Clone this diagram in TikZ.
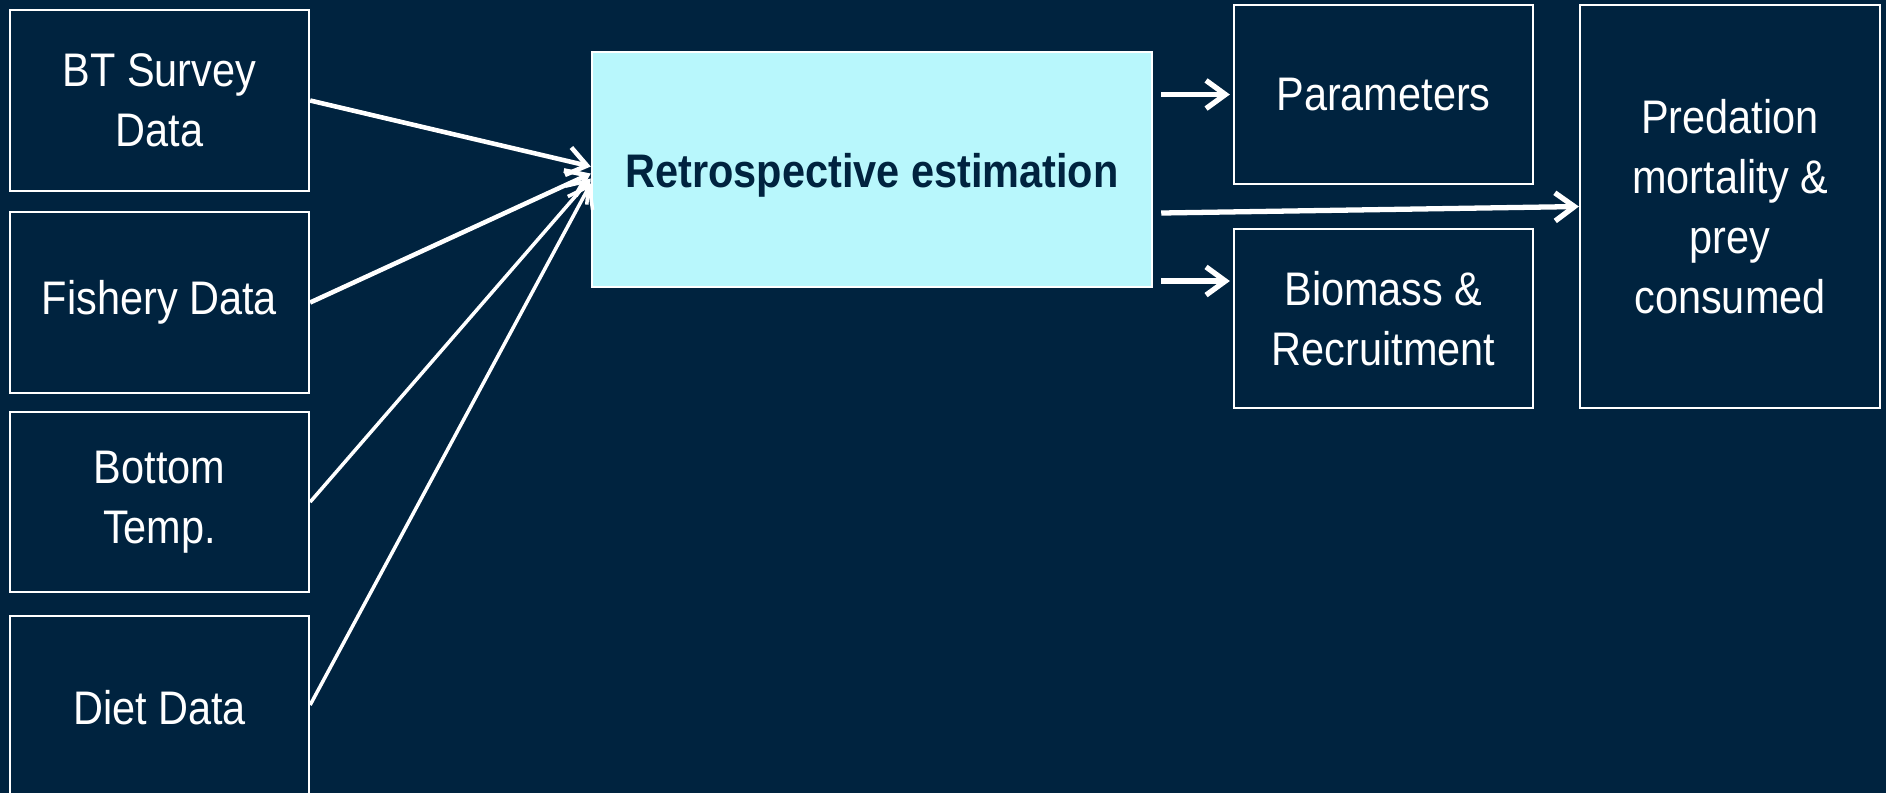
\documentclass[tikz,border=0pt]{standalone}
\usepackage{fontspec}
\setmainfont{Liberation Sans}[FakeStretch=0.88]
\usetikzlibrary{arrows.meta,calc}
\definecolor{bgnavy}{HTML}{00233F}
\definecolor{retrofill}{HTML}{B8F7FC}
\begin{document}
\begin{tikzpicture}[x=0.01cm,y=0.01cm,
  box/.style={draw=white,line width=0.6pt,inner sep=0pt,align=center,text=white,
    font=\fontsize{13.4pt}{17pt}\selectfont},
  conn/.style={draw=white,line width=#1,-{Straight Barb[length=5.5pt,width=8pt]}},
  conn/.default=1.1pt]
\fill[bgnavy] (0,0) rectangle (1886,-793);
\useasboundingbox (0,0) rectangle (1886,-793);

\node[box,minimum width=2.99cm,minimum height=1.81cm] (bt) at (159.5,-100.5) {BT Survey\\Data};
\node[box,minimum width=2.99cm,minimum height=1.81cm] (fish) at (159.5,-302.5) {Fishery Data};
\node[box,minimum width=2.99cm,minimum height=1.80cm] (temp) at (159.5,-502) {Bottom\\Temp.};
\node[box,minimum width=2.99cm,minimum height=1.94cm] (diet) at (159.5,-713) {\raisebox{0.05cm}[\height][\depth]{Diet Data}};

\node[box,fill=retrofill,text=bgnavy,minimum width=5.60cm,minimum height=2.35cm,
  font=\fontsize{13.4pt}{17pt}\selectfont\bfseries] (retro) at (872,-169.5) {\raisebox{-0.06cm}[\height][\depth]{Retrospective estimation}};

\node[box,minimum width=2.99cm,minimum height=1.79cm] (params) at (1383.5,-94.5) {Parameters};
\node[box,minimum width=2.99cm,minimum height=1.79cm] (bio) at (1383.5,-318.5) {Biomass \&\\Recruitment};
\node[box,minimum width=3.00cm,minimum height=4.03cm] (pred) at (1730,-206.5) {Predation\\mortality \&\\prey\\consumed};

\coordinate (in1) at ($(retro.west)+(0,3)$);
\coordinate (in2) at ($(retro.west)+(0,-4)$);
\coordinate (in3) at ($(retro.west)+(0,-9)$);
\coordinate (in4) at ($(retro.west)+(0,-14)$);
\draw[conn=1.3pt] (bt.east) -- (in1);
\draw[conn=1.3pt] (fish.east) -- (in2);
\draw[conn=1pt] (temp.east) -- (in3);
\draw[conn=1pt] ([yshift=0.08cm]diet.east) -- (in4);

\coordinate (o1) at ($(retro.east |- params.west)+(8,0)$);
\coordinate (o2) at ($(retro.east)+(8,-43.5)$);
\coordinate (o3) at ($(retro.east)+(8,-111.5)$);
\coordinate (t1) at ($(params.west)+(-3,0)$);
\coordinate (t2) at ($(bio.west)+(-3,37.5)$);
\draw[conn=1.5pt] (o1) -- (t1);
\draw[conn=1.5pt] (o2) -- (pred.west);
\draw[conn=1.5pt] (o3) -- (t2);
\end{tikzpicture}
\end{document}
